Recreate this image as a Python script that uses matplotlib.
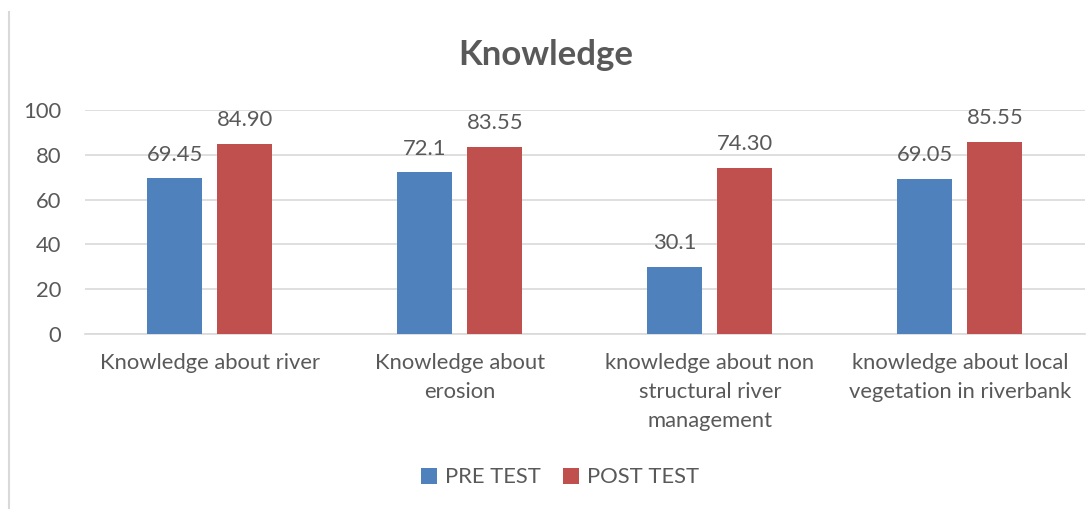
import matplotlib
matplotlib.use("Agg")
import matplotlib.pyplot as plt
from matplotlib.lines import Line2D
import numpy as np

# data
categories = [
    "Knowledge about river",
    "Knowledge about\nerosion",
    "knowledge about non\nstructural river\nmanagement",
    "knowledge about local\nvegetation in riverbank",
]
pre_test = [69.45, 72.1, 30.1, 69.05]
post_test = [84.90, 83.55, 74.30, 85.55]
pre_labels = ["69.45", "72.1", "30.1", "69.05"]
post_labels = ["84.90", "83.55", "74.30", "85.55"]
y_ticks = [0, 20, 40, 60, 80, 100]

BLUE = "#4F81BD"
RED = "#C0504D"
TEXT = "#595959"
GRID = "#D9D9D9"
FS = 15.8

plt.rcParams["font.family"] = ["Lato", "DejaVu Sans"]

fig = plt.figure(figsize=(10.91, 5.09), dpi=100)
ax = fig.add_axes([0.0779, 0.3438, 0.9166, 0.4401])

x = np.arange(len(categories))
w = 0.22
off = 0.14
b1 = ax.bar(x - off, pre_test, w, color=BLUE, zorder=3, label="PRE TEST")
b2 = ax.bar(x + off, post_test, w, color=RED, zorder=3, label="POST TEST")

for bars, labels in ((b1, pre_labels), (b2, post_labels)):
    for bar, lab in zip(bars, labels):
        ax.annotate(lab, (bar.get_x() + bar.get_width() / 2, bar.get_height()),
                    xytext=(0, 10), textcoords="offset points",
                    ha="center", va="bottom", fontsize=FS, color=TEXT)

ax.set_xlim(-0.5, len(categories) - 0.5)
ax.set_ylim(0, 100)
ax.set_yticks(y_ticks)
ax.yaxis.grid(True, color=GRID, linewidth=1.2, zorder=0)
ax.set_xticks(x)
ax.set_xticklabels(categories, fontsize=FS, color=TEXT, linespacing=1.55)
ax.tick_params(axis="x", length=0, pad=14)
ax.tick_params(axis="y", length=0, pad=17, labelsize=FS, labelcolor=TEXT)
for s in ("top", "right", "left"):
    ax.spines[s].set_visible(False)
ax.spines["bottom"].set_color(GRID)
ax.spines["bottom"].set_linewidth(1.2)

fig.text(0.5, 0.892, "Knowledge", ha="center", va="center",
         fontsize=25, fontweight="bold", color=TEXT)

fig.legend(handles=[b1, b2], loc="center", bbox_to_anchor=(0.513, 0.062),
           ncol=2, frameon=False, fontsize=FS, labelcolor=TEXT,
           handlelength=0.75, handleheight=0.75, handletextpad=0.35,
           columnspacing=1.0)

# left frame edge of the original chart box
fig.add_artist(Line2D([9 / 1091, 9 / 1091], [0, 1 - 12 / 509],
                      transform=fig.transFigure, color=GRID, linewidth=1.5))

fig.savefig("out.png", dpi=100)
